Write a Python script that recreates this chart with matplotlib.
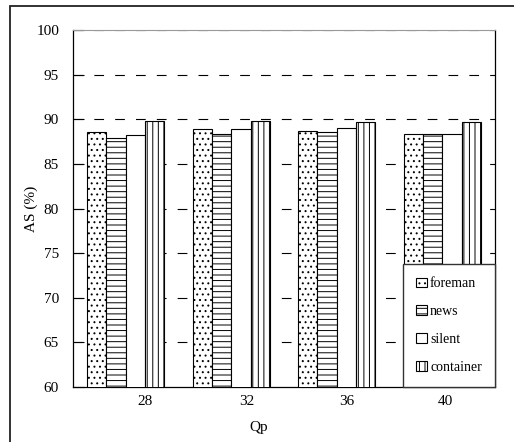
import matplotlib
matplotlib.use('Agg')
import matplotlib.pyplot as plt
from matplotlib.patches import Rectangle
import numpy as np

plt.rcParams['font.family'] = ['Liberation Serif', 'DejaVu Serif']
plt.rcParams['hatch.linewidth'] = 0.7
plt.rcParams['hatch.color'] = 'black'
plt.rcParams['lines.scale_dashes'] = False

qp = ['28', '32', '36', '40']
series = ['foreman', 'news', 'silent', 'container']
foreman = [88.6, 88.9, 88.7, 88.4]
news = [87.9, 88.3, 88.6, 88.4]
silent = [88.2, 88.9, 89.0, 88.3]
container = [89.8, 89.8, 89.7, 89.7]
hatches = ['...', '---', '', '|||']

fig = plt.figure(figsize=(5.14, 4.42), dpi=100)
ax = fig.add_axes([73/514, 55/442, 422/514, 357/442])

x = np.arange(len(qp))
w = 0.183
vals = [foreman, news, silent, container]
for i, (name, v, h) in enumerate(zip(series, vals, hatches)):
    ax.bar(x + (i - 1.5) * w, v, w, color='white', edgecolor='black',
           linewidth=0.8, hatch=h, label=name, zorder=3)

ax.set_xlim(-0.5, 3.5)
ax.set_ylim(60, 100)
ax.set_yticks(np.arange(60, 101, 5))
# category labels sit a little right of the group centres in the original
offs = [0.18, 0.15, 0.10, 0.03]
ax.set_xticks(x + np.array(offs))
ax.set_xticklabels(qp, fontsize=11)
ax.tick_params(axis='x', length=0, pad=6)
ax.tick_params(axis='y', direction='in', length=8, width=0.8, labelsize=11, pad=10)

for yv in range(65, 101, 5):
    ax.axhline(yv, color='black', lw=0.8, dashes=(7, 8), zorder=2)

for s in ['left', 'bottom', 'right']:
    ax.spines[s].set_color('black')
    ax.spines[s].set_linewidth(0.9)
ax.spines['top'].set_color('#999999')

ax.set_xlabel('Qp', fontsize=11)
ax.set_ylabel('AS (%)', fontsize=11)
ax.yaxis.set_label_coords(-0.083, 0.5)
ax.xaxis.set_label_coords(0.44, -0.095)

leg = ax.legend(loc='lower right', bbox_to_anchor=(1.0, 0.0), borderaxespad=0,
                fontsize=10, frameon=True, fancybox=False, handlelength=0.75,
                handleheight=0.7, handletextpad=0.25, labelspacing=1.07,
                borderpad=0.95)
leg.get_frame().set_edgecolor('#333333')
leg.get_frame().set_linewidth(1.0)
leg.get_frame().set_alpha(1)
leg.set_zorder(5)

fig.patches.append(Rectangle((10/514, -0.05), 0.99, 1.05 - 6/442,
                             transform=fig.transFigure, fill=False,
                             edgecolor='#222222', lw=1.3))

fig.savefig('out.png', dpi=100)
